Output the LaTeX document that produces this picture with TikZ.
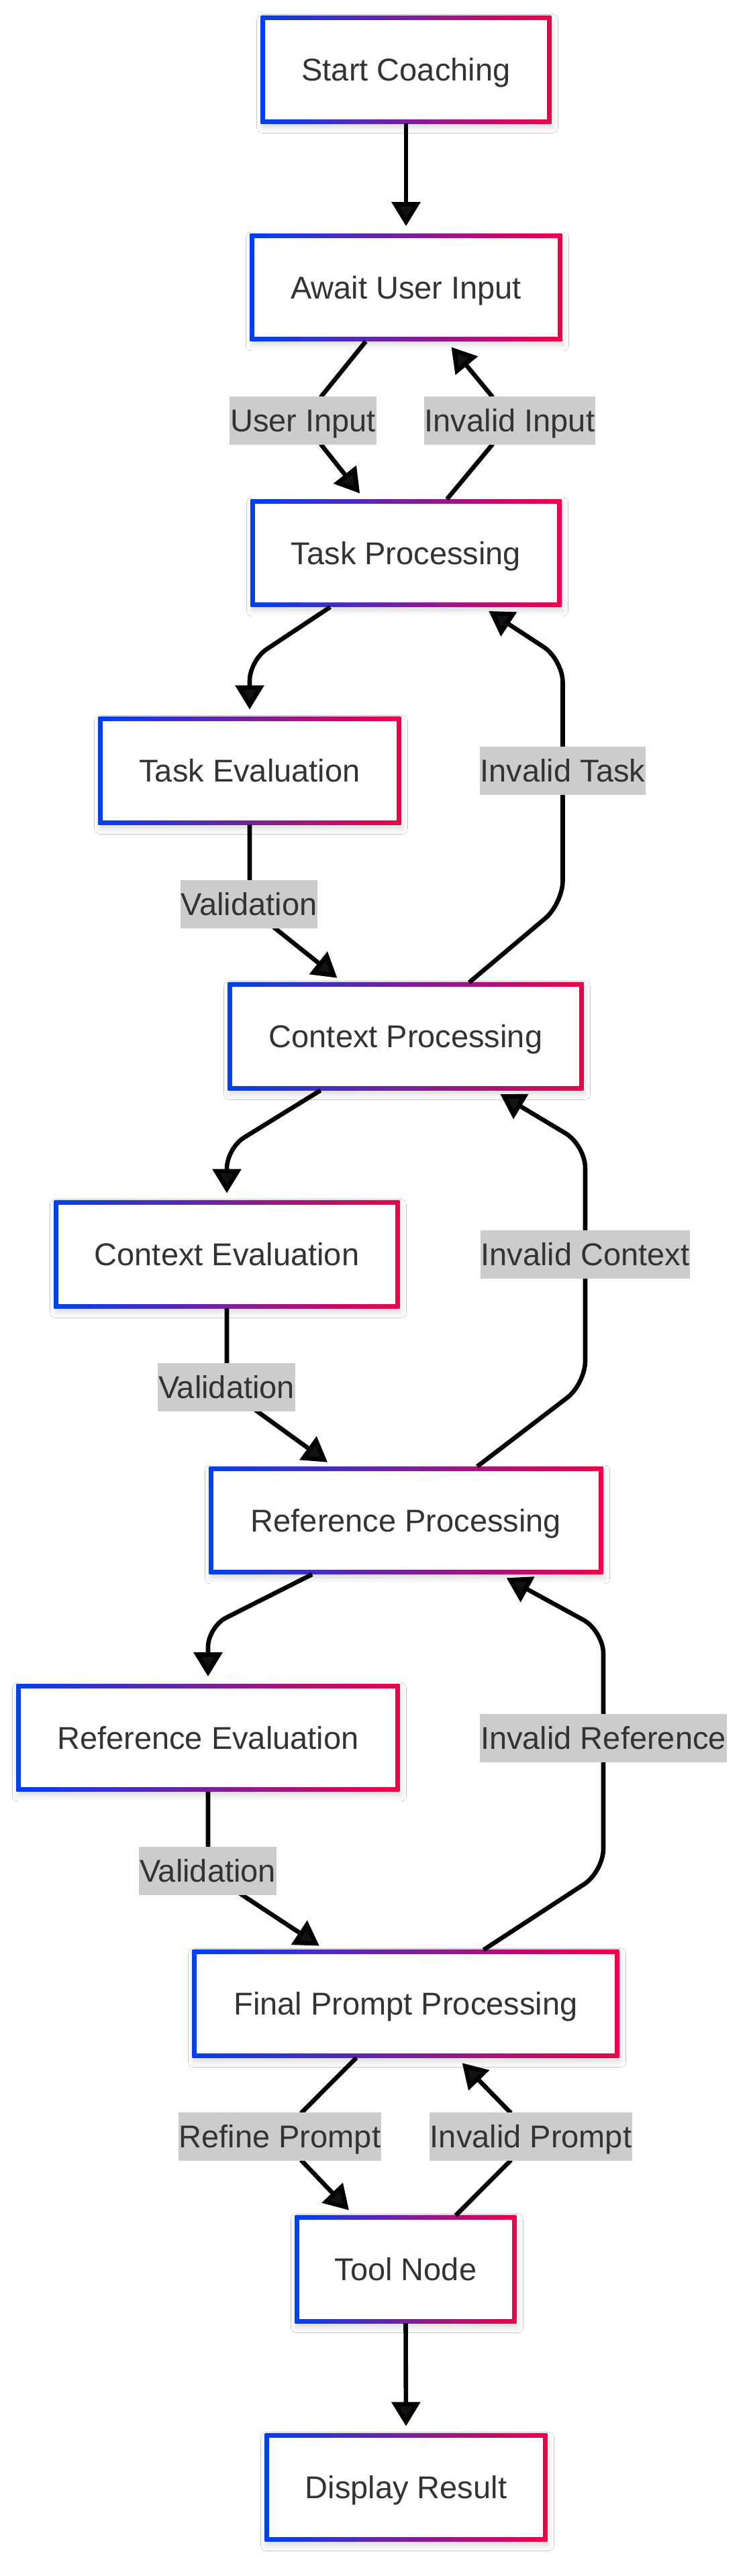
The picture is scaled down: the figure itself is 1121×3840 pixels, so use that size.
\documentclass[tikz,border=0pt]{standalone}
\usepackage{fontspec}
\setmainfont{Liberation Sans}
\usetikzlibrary{arrows.meta,shadows.blur}
\definecolor{cb}{RGB}{0,64,240}
\definecolor{cr}{RGB}{240,0,72}
\definecolor{txt}{RGB}{51,51,51}
\definecolor{lblgray}{RGB}{204,204,204}
\pgfdeclarelayer{bg}
\pgfdeclarelayer{edges}
\pgfsetlayers{bg,edges,main}
\begin{document}
\begin{tikzpicture}[x=0.5pt,y=-0.5pt,
  procbox/.style={rectangle, minimum width=#1*0.5pt, minimum height=80pt, inner sep=0pt,
    text height=16.8pt, text depth=0pt, font=\fontsize{23.5}{28}\selectfont, text=txt},
  elabel/.style={rectangle, fill=lblgray, inner xsep=0.5pt, inner ysep=0pt, minimum height=36pt,
    text height=16.8pt, text depth=0pt, font=\fontsize{23.5}{28}\selectfont, text=txt},
  conn/.style={line width=3.3pt, -{Triangle[length=18pt,width=21pt]}, shorten >=5.5pt},
]
\useasboundingbox (0,0) rectangle (1121,3840);

% process boxes
\node[procbox=432] (start) at (605,104) {Start Coaching};
\node[procbox=464] (await) at (605,428.5) {Await User Input};
\node[procbox=462] (task) at (605,824.5) {Task Processing};
\node[procbox=450] (teval) at (372,1149) {Task Evaluation};
\node[procbox=529] (ctx) at (604.5,1545) {Context Processing};
\node[procbox=514] (ceval) at (338,1870) {Context Evaluation};
\node[procbox=586] (ref) at (605,2266.5) {Reference Processing};
\node[procbox=570] (reval) at (310,2590.5) {Reference Evaluation};
\node[procbox=635] (fpp) at (604.5,2987) {Final Prompt Processing};
\node[procbox=329] (tool) at (604.5,3383) {Tool Node};
\node[procbox=420] (disp) at (605,3708) {Display Result};

% edge labels
\node[elabel] (l1) at (451.5,627) {User Input};
\node[elabel] (l2) at (759.5,627) {Invalid Input};
\node[elabel] (l3) at (838.5,1149) {Invalid Task};
\node[elabel] (l4) at (371,1347.5) {Validation};
\node[elabel] (l5) at (872,1870) {Invalid Context};
\node[elabel] (l6) at (337.5,2068) {Validation};
\node[elabel] (l7) at (899,2590.5) {Invalid Reference};
\node[elabel] (l8) at (309.5,2788.5) {Validation};
\node[elabel] (l9) at (417,3185) {Refine Prompt};
\node[elabel] (l10) at (791,3185) {Invalid Prompt};

\begin{pgfonlayer}{bg}
\fill[white] (0,0) rectangle (1121,3840);
\foreach \n in {start,await,task,teval,ctx,ceval,ref,reval,fpp,tool,disp}{
  \fill[white, blur shadow={shadow xshift=1pt, shadow yshift=-3pt, shadow blur radius=4pt, shadow opacity=14}]
    (\n.south west) rectangle (\n.north east);
  \shade[left color=cb, right color=cr] (\n.south west) rectangle (\n.north east);
  \fill[white] ([shift={(3.3pt,3.3pt)}]\n.south west) rectangle ([shift={(-3.3pt,-3.3pt)}]\n.north east);
}
\end{pgfonlayer}

\begin{pgfonlayer}{edges}
\draw[conn] (start.south) -- (await.north);
\draw[conn] ([xshift=-30pt]await.south) -- ([xshift=13.75pt]l1.north) -- ([xshift=13.75pt]l1.south) -- ([xshift=-31pt]task.north);
\draw[conn] ([xshift=30.5pt]task.north) -- ([xshift=-13.25pt]l2.south) -- ([xshift=-13.25pt]l2.north) -- ([xshift=30.25pt]await.south);
\draw[conn, rounded corners=15pt] ([xshift=-56.5pt]task.south) -- ([yshift=42pt]teval.north) -- (teval.north);
\draw[conn] (teval.south) -- ([xshift=0.5pt]l4.center) -- ([xshift=19.5pt]l4.south) -- ([xshift=-46.75pt]ctx.north);
\draw[conn, rounded corners=17pt] ([xshift=47.25pt]ctx.north) -- ([yshift=-99pt]l3.center) -- ([yshift=83pt]l3.center) -- ([xshift=57pt]task.south);
\draw[conn, rounded corners=15pt] ([xshift=-63.5pt]ctx.south) -- ([yshift=39pt]ceval.north) -- (ceval.north);
\draw[conn] (ceval.south) -- ([xshift=0.25pt]l6.center) -- ([xshift=23.25pt]l6.south) -- ([xshift=-54pt]ref.north);
\draw[conn, rounded corners=17pt] ([xshift=53pt]ref.north) -- ([yshift=-96.5pt]l5.center) -- ([yshift=81.5pt]l5.center) -- ([xshift=65.75pt]ctx.south);
\draw[conn, rounded corners=15pt] ([xshift=-70pt]ref.south) -- ([yshift=42.5pt]reval.north) -- (reval.north);
\draw[conn] (reval.south) -- ([xshift=0.25pt]l8.center) -- ([xshift=25.75pt]l8.south) -- ([xshift=-59.75pt]fpp.north);
\draw[conn, rounded corners=17pt] ([xshift=58pt]fpp.north) -- ([yshift=-99.75pt]l7.center) -- ([yshift=79.75pt]l7.center) -- ([xshift=70pt]ref.south);
\draw[conn] ([xshift=-36.75pt]fpp.south) -- ([xshift=16.5pt]l9.north) -- ([xshift=16.5pt]l9.south) -- ([xshift=-38.5pt]tool.north);
\draw[conn] ([xshift=37.25pt]tool.north) -- ([xshift=-15.5pt]l10.south) -- ([xshift=-15.5pt]l10.north) -- ([xshift=38.25pt]fpp.south);
\draw[conn] (tool.south) -- (disp.north);
\end{pgfonlayer}
\end{tikzpicture}
\end{document}
